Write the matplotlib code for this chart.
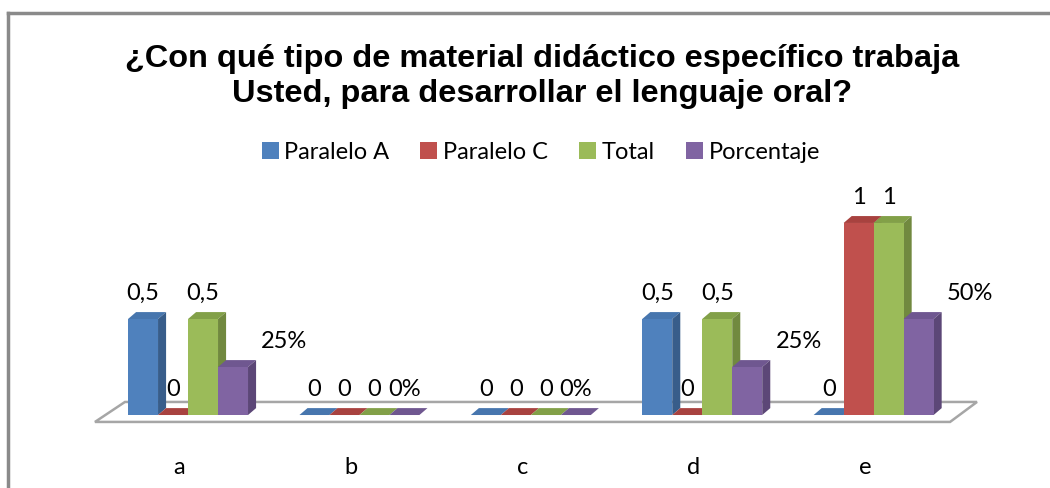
import matplotlib.pyplot as plt
from matplotlib.patches import Polygon


""" Chart data """

categories = ["a", "b", "c", "d", "e"]
series_names = ["Paralelo A", "Paralelo C", "Total", "Porcentaje"]
paralelo_a = [0.5, 0, 0, 0.5, 0]
paralelo_c = [0, 0, 0, 0, 1]
total = [0.5, 0, 0, 0.5, 1]
porcentaje = [0.25, 0, 0, 0.25, 0.5]
series_values = [paralelo_a, paralelo_c, total, porcentaje]

title = "¿Con qué tipo de material didáctico específico trabaja\nUsted, para desarrollar el lenguaje oral?"


""" Styles """

front_colors = ["#4F81BD", "#C0504D", "#9BBB59", "#8064A2"]
side_colors = ["#385D8A", "#8C3B39", "#71893F", "#5C4777"]
top_colors = ["#4776AE", "#A8423F", "#82A048", "#6F5790"]

bar_w = 0.175    # width of one column, in category units
dx = 0.047       # depth offset of the 3d look
dy = 0.036
fs = 17          # text size of labels and legend


def fmt(v, pct=False):
    if pct:
        return "%d%%" % round(v * 100)
    return ("%g" % v).replace(".", ",")


fig = plt.figure(figsize=(10.5, 4.88), dpi=100)
ax = fig.add_axes([0, 0, 1, 1])
ax.set_xlim(-1.097, 5.029)
ax.set_ylim(-0.380, 2.161)
ax.axis("off")

# outer frame of the chart area
fig.add_artist(plt.Line2D([0.0075, 0.0075], [0, 0.973], color="#8a8a8a", lw=2.5))
fig.add_artist(plt.Line2D([0.0075, 1], [0.973, 0.973], color="#8a8a8a", lw=2.5))

# floor
n = len(categories)
floor = Polygon([(-0.543, -0.036), (n - 1 + 0.446, -0.036),
                 (n - 1 + 0.603, 0.068), (-0.368, 0.068)],
                closed=True, facecolor="white", edgecolor="#a6a6a6", lw=1.8, zorder=1)
ax.add_patch(floor)

handles = []
for j, vals in enumerate(series_values):
    xs = [i + (j - 1.5) * bar_w for i in range(n)]
    bars = ax.bar(xs, vals, width=bar_w, color=front_colors[j], zorder=3 + 2 * j, lw=0)
    handles.append(bars)
    for x, v in zip(xs, vals):
        l, r = x - bar_w / 2, x + bar_w / 2
        top = Polygon([(l, v), (r, v), (r + dx, v + dy), (l + dx, v + dy)],
                      closed=True, facecolor=top_colors[j], lw=0, zorder=2 + 2 * j)
        ax.add_patch(top)
        if v > 0:
            side = Polygon([(r, 0), (r + dx, dy), (r + dx, v + dy), (r, v)],
                           closed=True, facecolor=side_colors[j], lw=0, zorder=2 + 2 * j)
            ax.add_patch(side)
        is_pct = j == 3
        off = 0.3 if (is_pct and v > 0) else 0
        ax.text(x + off, v + 0.135, fmt(v, is_pct), ha="center", va="center",
                fontsize=fs, family="Lato", zorder=20)

# category labels
for i, c in enumerate(categories):
    ax.text(i - 0.05, -0.275, c, ha="center", va="center", fontsize=fs, family="Lato")

fig.text(0.516, 0.843, title, ha="center", va="center", fontsize=23.4,
         fontweight="bold", family="Liberation Sans", linespacing=1.25)

fig.legend(handles, series_names, loc="center", bbox_to_anchor=(0.515, 0.688), ncol=4,
           frameon=False, handlelength=0.72, handleheight=0.72, handletextpad=0.25,
           columnspacing=1.3, prop={"family": "Lato", "size": fs})

fig.savefig("out.png", dpi=100)
